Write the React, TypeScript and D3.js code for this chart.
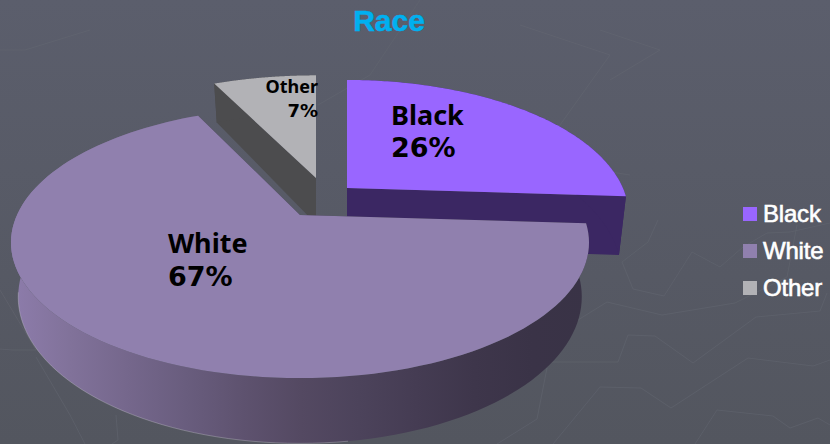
import React from "react";
import * as d3 from "d3";

const categories = ["Black", "White", "Other"];
const shares = [26, 67, 7];
const topColors = ["#9966ff", "#9080ae", "#b2b2b6"];
const sideColors = ["#3b2763", "#3a3347", "#4c4c4e"];
const chartTitle = "Race";

const W = 830;
const H = 444;

// Each exploded slice has its own apex, footprint and extrusion on the page.
const apexes = [
  { x: 347, y: 188, depth: 58, sx: 0.975, sy: 1 },
  { x: 300, y: 215, depth: 52, sx: 1, sy: 1 },
  { x: 316, y: 178, depth: 46, sx: 1, sy: 0.95 },
];
const labelStyles = [
  { x: 391, lines: [125, 157], size: 27, anchor: "start" },
  { x: 168, lines: [253, 286], size: 27, anchor: "start" },
  { x: 318, lines: [93, 117], size: 18, anchor: "end" },
];
const texture: [number, number][][] = [
  [[658, 220], [648, 242], [622, 262], [633, 289], [664, 296], [692, 252], [720, 267], [743, 247], [767, 233], [790, 232], [830, 223]],
  [[578, 320], [607, 302], [662, 315], [735, 303], [787, 277], [797, 225]],
  [[550, 362], [618, 362], [628, 335], [655, 336], [693, 363], [756, 317], [820, 311], [827, 293]],
  [[497, 444], [537, 419], [547, 368]],
  [[553, 444], [600, 387], [641, 388], [671, 408], [748, 358], [813, 366], [830, 360]],
  [[695, 444], [717, 410], [773, 416], [790, 428], [818, 418], [830, 425]],
  [[0, 349], [12, 350], [36, 350], [0, 290]],
  [[36, 357], [70, 415], [85, 444]],
  [[116, 415], [118, 440], [112, 444]],
  [[420, 0], [370, 75], [318, 105]],
  [[600, 30], [660, 50], [610, 80]],
  [[520, 25], [610, 55], [535, 160], [630, 175]],
  [[0, 50], [25, 50], [90, 30]],
];

// Tilted-disc projection: y > 0 comes toward the viewer and grows.
const halfWidth = 283;
const halfDepth = 130;
const tilt = 0.203;
const floorShrink = 0.975;
type Apex = (typeof apexes)[number];
const project = (angle: number, apex: Apex, drop = 0, shrink = 1) => {
  const ux = Math.sin(angle);
  const uy = -Math.cos(angle);
  const s = 1 / (1 - tilt * uy);
  return [
    apex.x + halfWidth * apex.sx * shrink * ux * s,
    apex.y + halfDepth * apex.sy * uy * s + drop * s,
  ] as [number, number];
};
const linePath = d3.line();

function slicePaths(i: number, startAngle: number, endAngle: number) {
  const apex = apexes[i];
  const steps = d3.range(0, 121).map((k) => startAngle + ((endAngle - startAngle) * k) / 120);
  const rim = steps.map((a) => project(a, apex));
  const floor = steps.map((a) => project(a, apex, apex.depth, floorShrink));
  const centre: [number, number] = [apex.x, apex.y];
  const lowCentre: [number, number] = [apex.x, apex.y + apex.depth];
  const frontAngles = d3.range(172, 262, 2).map((deg) => (deg * Math.PI) / 180);
  return {
    top: linePath([centre, ...rim])! + "Z",
    wall: linePath([...rim, ...floor.slice().reverse()])! + "Z",
    cutStart: linePath([centre, rim[0], floor[0], lowCentre])! + "Z",
    cutEnd: linePath([centre, rim[120], floor[120], lowCentre])! + "Z",
    floorEdge: linePath(frontAngles.map((a) => project(a, apex, apex.depth, floorShrink)))!,
  };
}

export default function App() {
  const arcs = d3.pie<number>().sort(null)(shares);
  const wallShade = d3
    .scaleLinear<string>()
    .domain([0, 0.06, 0.25, 0.48, 0.85, 1])
    .range(["#8d7cab", "#86769f", "#6f6285", "#554a64", "#3a3347", "#393346"]);
  const drawOrder = [2, 0, 1];
  const legendY = d3.scalePoint<string>().domain(categories).range([214, 288]);

  return (
    <svg
      width={W}
      height={H}
      viewBox={`0 0 ${W} ${H}`}
      style={{ position: "absolute", left: 0, top: 0, display: "block" }}
    >
      <defs>
        <linearGradient id="page" x1="0" y1="0" x2="0" y2="1">
          <stop offset="0" stopColor="#5b5e6c" />
          <stop offset="1" stopColor="#53565f" />
        </linearGradient>
        <linearGradient id="whiteWall" gradientUnits="userSpaceOnUse" x1={12} x2={590} y1={0} y2={0}>
          {d3.range(0, 1.001, 0.1).map((t) => (
            <stop key={t} offset={t} stopColor={wallShade(t)} />
          ))}
        </linearGradient>
      </defs>
      <rect width={W} height={H} fill="url(#page)" />
      {texture.map((pts, i) => (
        <path key={i} d={linePath(pts)!} fill="none" stroke="#646772" strokeOpacity={0.5} strokeWidth={1} />
      ))}

      {drawOrder.map((i) => {
        const p = slicePaths(i, arcs[i].startAngle, arcs[i].endAngle);
        const side = i === 1 ? "url(#whiteWall)" : sideColors[i];
        return (
          <g key={categories[i]}>
            <path d={p.cutStart} fill={sideColors[i]} />
            <path d={p.cutEnd} fill={sideColors[i]} />
            <path d={p.wall} fill={side} />
            {i === 1 && <path d={p.floorEdge} fill="none" stroke="#d4d4da" strokeOpacity={0.4} strokeWidth={0.8} />}
            <path d={p.top} fill={topColors[i]} />
          </g>
        );
      })}

      {categories.map((c, i) => (
        <g
          key={c}
          textAnchor={labelStyles[i].anchor as "start" | "end"}
          fontWeight={700}
          fontSize={labelStyles[i].size}
          fill="#000"
        >
          <text x={labelStyles[i].x} y={labelStyles[i].lines[0]} fontFamily="'Noto Sans', sans-serif">
            {c}
          </text>
          <text x={labelStyles[i].x} y={labelStyles[i].lines[1]} fontFamily="'DejaVu Sans', sans-serif">
            {`${shares[i]}%`}
          </text>
        </g>
      ))}

      <text
        x={389}
        y={31}
        textAnchor="middle"
        fontFamily="'Liberation Sans', sans-serif"
        fontWeight={700}
        fontSize={30}
        fill="#00b0f0"
        stroke="#00b0f0"
        strokeWidth={0.5}
      >
        {chartTitle}
      </text>

      {categories.map((c, i) => (
        <g key={c}>
          <rect x={743} y={legendY(c)! - 7} width={14} height={14} fill={topColors[i]} />
          <text
            x={763}
            y={legendY(c)! + 8}
            fontFamily="'Liberation Sans', sans-serif"
            fontSize={24}
            letterSpacing={-0.2}
            fill="#fff"
            stroke="#fff"
            strokeWidth={0.6}
          >
            {c}
          </text>
        </g>
      ))}
    </svg>
  );
}
